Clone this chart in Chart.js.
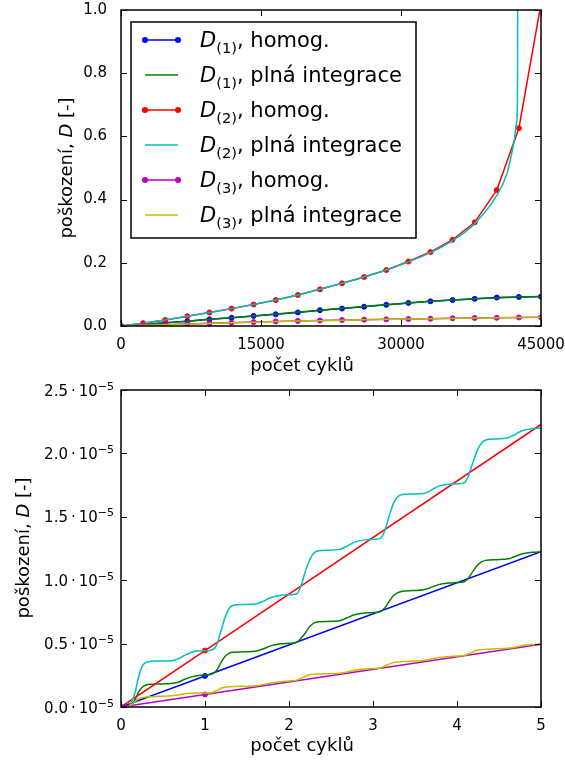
<!DOCTYPE html>
<html>
<head>
<meta charset="utf-8">
<script src="https://cdn.jsdelivr.net/npm/chart.js@4.4.1/dist/chart.umd.min.js"></script>
<style>
  html, body { margin: 0; padding: 0; background: #fff; }
  #wrap { position: relative; width: 565px; height: 760px; }
  .panel { position: absolute; left: 0; width: 565px; height: 380px; }
  #top { top: 0; }
  #bottom { top: 380px; }
</style>
</head>
<body>
<div id="wrap">
  <div class="panel" id="top"><canvas id="cTop" width="565" height="380"></canvas></div>
  <div class="panel" id="bottom"><canvas id="cBottom" width="565" height="380"></canvas></div>
</div>
<script>
// ---------- long run: damage over 45000 cycles ----------
const cyclesLong = [0, 2368, 4737, 7105, 9474, 11842, 14211, 16579, 18947, 21316,
  23684, 26053, 28421, 30789, 33158, 35526, 37895, 40263, 42632, 45000];
const d1HomogLong = [0, 0.005, 0.010, 0.015, 0.021, 0.026, 0.032, 0.037, 0.043, 0.050,
  0.055, 0.061, 0.067, 0.073, 0.078, 0.082, 0.086, 0.090, 0.092, 0.093];
const d1FullLong = [0, 0.005, 0.010, 0.015, 0.021, 0.026, 0.032, 0.038, 0.044, 0.050,
  0.056, 0.062, 0.067, 0.073, 0.078, 0.082, 0.086, 0.089, 0.092, 0.093];
const d2HomogLong = [0, 0.009, 0.019, 0.031, 0.043, 0.055, 0.068, 0.082, 0.098, 0.116,
  0.135, 0.155, 0.177, 0.204, 0.234, 0.273, 0.328, 0.430, 0.626, 1.02];
const d2FullCyclesLong = [0, 2368, 4737, 7105, 9474, 11842, 14211, 16579, 18947, 21316,
  23684, 26053, 28421, 30789, 33158, 35526, 37895, 40263, 41360, 41790, 42140, 42360, 42480, 42520];
const d2FullLong = [0, 0.009, 0.019, 0.031, 0.043, 0.055, 0.068, 0.082, 0.098, 0.116,
  0.135, 0.155, 0.177, 0.203, 0.232, 0.270, 0.324, 0.413, 0.483, 0.536, 0.589, 0.640, 0.720, 1.30];
const d3HomogLong = [0, 0.002, 0.004, 0.006, 0.0085, 0.0105, 0.0125, 0.0145, 0.016, 0.0175,
  0.019, 0.020, 0.021, 0.022, 0.023, 0.0245, 0.0255, 0.026, 0.027, 0.0275];
const d3FullLong = [0, 0.002, 0.004, 0.006, 0.008, 0.010, 0.012, 0.014, 0.0155, 0.017,
  0.0185, 0.020, 0.021, 0.022, 0.023, 0.024, 0.025, 0.026, 0.027, 0.0275];

// ---------- first five cycles (damage in units of 1e-5) ----------
const cyclesShortHomog = [0, 1, 5];
const d1HomogShort = [0, 0.245, 1.224];
const d2HomogShort = [0, 0.445, 2.228];
const d3HomogShort = [0, 0.099, 0.495];

const cyclesShortFull = [0, 0.08, 0.12, 0.17, 0.21, 0.26, 0.32, 0.45, 0.6, 0.68, 0.78, 0.9, 1.0,
  1.09, 1.14, 1.19, 1.24, 1.29, 1.35, 1.47, 1.6, 1.68, 1.78, 1.9, 2.0,
  2.09, 2.14, 2.19, 2.24, 2.29, 2.35, 2.47, 2.6, 2.68, 2.78, 2.9, 3.0,
  3.09, 3.14, 3.19, 3.24, 3.29, 3.35, 3.47, 3.6, 3.68, 3.78, 3.9, 4.0,
  4.09, 4.14, 4.19, 4.24, 4.29, 4.35, 4.47, 4.6, 4.68, 4.78, 4.9, 5.0];
const d1FullShort = [0, 0.003, 0.015, 0.06, 0.12, 0.16, 0.178, 0.182, 0.185, 0.195, 0.225, 0.247, 0.252,
  0.262, 0.29, 0.35, 0.40, 0.425, 0.432, 0.435, 0.44, 0.455, 0.482, 0.498, 0.502,
  0.51, 0.54, 0.58, 0.63, 0.66, 0.672, 0.675, 0.68, 0.70, 0.727, 0.742, 0.745,
  0.752, 0.78, 0.83, 0.875, 0.90, 0.912, 0.918, 0.924, 0.94, 0.965, 0.978, 0.982,
  0.99, 1.02, 1.07, 1.115, 1.145, 1.157, 1.162, 1.167, 1.185, 1.208, 1.22, 1.224];
const d2FullShort = [0, 0.005, 0.03, 0.12, 0.24, 0.33, 0.357, 0.362, 0.364, 0.38, 0.415, 0.441, 0.444,
  0.452, 0.49, 0.60, 0.71, 0.78, 0.805, 0.809, 0.812, 0.83, 0.862, 0.882, 0.885,
  0.893, 0.95, 1.06, 1.15, 1.21, 1.232, 1.237, 1.243, 1.265, 1.30, 1.318, 1.322,
  1.33, 1.39, 1.50, 1.60, 1.655, 1.675, 1.68, 1.684, 1.705, 1.742, 1.756, 1.76,
  1.77, 1.83, 1.93, 2.02, 2.08, 2.107, 2.114, 2.122, 2.145, 2.18, 2.196, 2.20];
const d3FullShort = [0, 0.002, 0.015, 0.045, 0.065, 0.076, 0.08, 0.084, 0.088, 0.095, 0.107, 0.11, 0.11,
  0.115, 0.13, 0.148, 0.156, 0.16, 0.162, 0.164, 0.167, 0.175, 0.19, 0.20, 0.205,
  0.212, 0.225, 0.24, 0.252, 0.258, 0.261, 0.263, 0.266, 0.275, 0.29, 0.30, 0.303,
  0.308, 0.322, 0.338, 0.35, 0.355, 0.358, 0.362, 0.367, 0.375, 0.39, 0.398, 0.402,
  0.407, 0.42, 0.435, 0.447, 0.452, 0.456, 0.459, 0.463, 0.47, 0.485, 0.493, 0.496];

// ---------- tick values ----------
const longCycleTicks = [0, 15000, 30000, 45000];
const longDamageTicks = [0, 0.2, 0.4, 0.6, 0.8, 1.0];
const shortCycleTicks = [0, 1, 2, 3, 4, 5];
const shortDamageTicks = [0, 0.5, 1.0, 1.5, 2.0, 2.5];

const FONT = "'DejaVu Sans', sans-serif";
Chart.defaults.font.family = FONT;

const COLORS = { b: '#0000ff', g: '#008000', r: '#ff0000', c: '#00bfbf', m: '#bf00bf', y: '#bfbf00' };

const xy = (xs, ys) => xs.map((x, i) => ({ x: x, y: ys[i] }));

// draw a row of text pieces with their own size/style/offset
function drawRuns(ctx, runs, x, y, align) {
  let total = 0;
  runs.forEach(r => {
    ctx.font = (r.italic ? 'italic ' : '') + r.size + 'px ' + FONT;
    r.w = ctx.measureText(r.text).width;
    total += r.w;
  });
  let cx = align === 'center' ? x - total / 2 : (align === 'right' ? x - total : x);
  ctx.textAlign = 'left';
  ctx.textBaseline = 'alphabetic';
  runs.forEach(r => {
    ctx.font = (r.italic ? 'italic ' : '') + r.size + 'px ' + FONT;
    ctx.fillText(r.text, cx, y + (r.dy || 0));
    cx += r.w;
  });
}

function homogSeries(label, sub, rest, color, xs, ys, radius) {
  return {
    label: label, sym: 'D', sub: sub, rest: rest, marker: true,
    data: xy(xs, ys), borderColor: color, backgroundColor: color,
    borderWidth: 1.5, pointRadius: radius, pointBorderWidth: 1, pointBorderColor: color,
    pointBackgroundColor: color, pointHoverRadius: 0, tension: 0, fill: false
  };
}
function fullSeries(label, sub, rest, color, xs, ys) {
  return {
    label: label, sym: 'D', sub: sub, rest: rest, marker: false,
    data: xy(xs, ys), borderColor: color, backgroundColor: color,
    borderWidth: 1.5, pointRadius: 0, pointHoverRadius: 0,
    cubicInterpolationMode: 'monotone', fill: false
  };
}

// frame, inward ticks on all four sides, axis titles, legend
const mplDecor = {
  id: 'mplDecor',
  afterDatasetsDraw(chart, args, opts) {
    const ctx = chart.ctx, a = chart.chartArea;
    const xs = chart.scales.x, ys = chart.scales.y;
    const tl = 6;
    ctx.save();
    ctx.strokeStyle = '#000';
    ctx.lineWidth = 1;
    ctx.beginPath();
    xs.ticks.forEach(t => {
      const px = Math.round(xs.getPixelForValue(t.value)) + 0.5;
      ctx.moveTo(px, a.bottom); ctx.lineTo(px, a.bottom - tl);
      ctx.moveTo(px, a.top); ctx.lineTo(px, a.top + tl);
    });
    ys.ticks.forEach(t => {
      const py = Math.round(ys.getPixelForValue(t.value)) + 0.5;
      ctx.moveTo(a.left, py); ctx.lineTo(a.left + tl, py);
      ctx.moveTo(a.right, py); ctx.lineTo(a.right - tl, py);
    });
    ctx.stroke();
    ctx.lineWidth = 1.5;
    ctx.strokeRect(a.left, a.top, a.right - a.left, a.bottom - a.top);
    ctx.restore();
  },
  afterDraw(chart, args, opts) {
    const ctx = chart.ctx;
    ctx.save();
    ctx.fillStyle = '#000';

    // y tick labels written as m·10⁻⁵
    if (opts.sciY) {
      const ys = chart.scales.y;
      ys.ticks.forEach(t => {
        const py = ys.getPixelForValue(t.value);
        drawRuns(ctx, [
          { text: t.value.toFixed(1), size: 15 },
          { text: '\u2009\u00b7\u2009', size: 15 },
          { text: '10', size: 15 },
          { text: '\u22125', size: 11, dy: -6 }
        ], opts.sciY.right, py + 5.5, 'right');
      });
    }

    // x axis title
    drawRuns(ctx, [{ text: 'počet cyklů', size: 18 }], opts.xTitle.x, opts.xTitle.y, 'center');

    // y axis title, rotated
    ctx.save();
    ctx.translate(opts.yTitle.x, opts.yTitle.y);
    ctx.rotate(-Math.PI / 2);
    drawRuns(ctx, [
      { text: 'poškození, ', size: 18 },
      { text: 'D', size: 18, italic: true },
      { text: ' [-]', size: 18 }
    ], 0, 0, 'center');
    ctx.restore();

    // legend
    if (opts.legend) {
      const L = opts.legend;
      ctx.fillStyle = '#fff';
      ctx.fillRect(L.left, L.top, L.right - L.left, L.bottom - L.top);
      ctx.strokeStyle = '#000';
      ctx.lineWidth = 1.5;
      ctx.strokeRect(L.left, L.top, L.right - L.left, L.bottom - L.top);
      chart.data.datasets.forEach((ds, i) => {
        const y = L.rowY0 + i * L.rowStep;
        ctx.strokeStyle = ds.borderColor;
        ctx.lineWidth = 1.5;
        ctx.beginPath();
        ctx.moveTo(L.lineX0, y); ctx.lineTo(L.lineX1, y);
        ctx.stroke();
        if (ds.marker) {
          ctx.fillStyle = ds.borderColor;
          [L.lineX0, L.lineX1].forEach(px => {
            ctx.beginPath(); ctx.arc(px, y, 3, 0, Math.PI * 2); ctx.fill();
          });
        }
        ctx.fillStyle = '#000';
        drawRuns(ctx, [
          { text: ds.sym, size: 21, italic: true },
          { text: ds.sub, size: 14.7, dy: 5.5 },
          { text: ds.rest, size: 21 }
        ], L.textX, y + 7, 'left');
      });
    }
    ctx.restore();
  }
};

function tickList(list) {
  return scale => { scale.ticks = list.map(v => ({ value: v })); };
}

function baseOptions(xMax, xTicks, yMax, yTicks, xHeight, decor, yTickDisplay, yFmt, xFmt) {
  return {
    responsive: false,
    animation: false,
    devicePixelRatio: 1,
    layout: { padding: { top: 10, right: 24, bottom: 0, left: 0 } },
    plugins: { legend: { display: false }, tooltip: { enabled: false }, mplDecor: decor },
    scales: {
      x: {
        type: 'linear', min: 0, max: xMax,
        afterBuildTicks: tickList(xTicks),
        afterFit: s => { s.height = xHeight; s.paddingLeft = 0; s.paddingRight = 0; },
        grid: { display: false }, border: { display: false },
        ticks: { color: '#000', font: { size: 15 }, padding: 2, maxRotation: 0, autoSkip: false, callback: xFmt }
      },
      y: {
        type: 'linear', min: 0, max: yMax,
        afterBuildTicks: tickList(yTicks),
        afterFit: s => { s.width = 121; s.paddingTop = 0; s.paddingBottom = 0; },
        grid: { display: false }, border: { display: false },
        ticks: { display: yTickDisplay, color: '#000', font: { size: 15 }, padding: 6, autoSkip: false, callback: yFmt }
      }
    }
  };
}

const topSets = [
  homogSeries('D(1), homog.', '(1)', ', homog.', COLORS.b, cyclesLong, d1HomogLong, 2.5),
  fullSeries('D(1), plná integrace', '(1)', ', plná integrace', COLORS.g, cyclesLong, d1FullLong),
  homogSeries('D(2), homog.', '(2)', ', homog.', COLORS.r, cyclesLong, d2HomogLong, 2.5),
  fullSeries('D(2), plná integrace', '(2)', ', plná integrace', COLORS.c, d2FullCyclesLong, d2FullLong),
  homogSeries('D(3), homog.', '(3)', ', homog.', COLORS.m, cyclesLong, d3HomogLong, 2.5),
  fullSeries('D(3), plná integrace', '(3)', ', plná integrace', COLORS.y, cyclesLong, d3FullLong)
];
topSets.forEach((ds, i) => { ds.order = topSets.length - i; });

new Chart(document.getElementById('cTop'), {
  type: 'line',
  data: { datasets: topSets },
  options: baseOptions(45000, longCycleTicks, 1.0, longDamageTicks, 54, {
    xTitle: { x: 302, y: 371 },
    yTitle: { x: 72, y: 168 },
    legend: { left: 131, top: 22, right: 416, bottom: 238, rowY0: 40, rowStep: 35,
              lineX0: 145, lineX1: 178, textX: 200 }
  }, true, v => v.toFixed(1), v => String(v)),
  plugins: [mplDecor]
});

// markers only at the computed homogenised steps (0 and 1); the line runs on past the edge
const shortRadius = [2.5, 2.5, 0];
const bottomSets = [
  homogSeries('D(1), homog.', '(1)', ', homog.', COLORS.b, cyclesShortHomog, d1HomogShort, shortRadius),
  fullSeries('D(1), plná integrace', '(1)', ', plná integrace', COLORS.g, cyclesShortFull, d1FullShort),
  homogSeries('D(2), homog.', '(2)', ', homog.', COLORS.r, cyclesShortHomog, d2HomogShort, shortRadius),
  fullSeries('D(2), plná integrace', '(2)', ', plná integrace', COLORS.c, cyclesShortFull, d2FullShort),
  homogSeries('D(3), homog.', '(3)', ', homog.', COLORS.m, cyclesShortHomog, d3HomogShort, shortRadius),
  fullSeries('D(3), plná integrace', '(3)', ', plná integrace', COLORS.y, cyclesShortFull, d3FullShort)
];
bottomSets.forEach((ds, i) => { ds.order = bottomSets.length - i; });

new Chart(document.getElementById('cBottom'), {
  type: 'line',
  data: { datasets: bottomSets },
  options: baseOptions(5, shortCycleTicks, 2.5, shortDamageTicks, 53, {
    xTitle: { x: 302, y: 371 },
    yTitle: { x: 29, y: 168 },
    sciY: { right: 114 }
  }, false, v => v.toFixed(1), v => String(v)),
  plugins: [mplDecor]
});
</script>
</body>
</html>
